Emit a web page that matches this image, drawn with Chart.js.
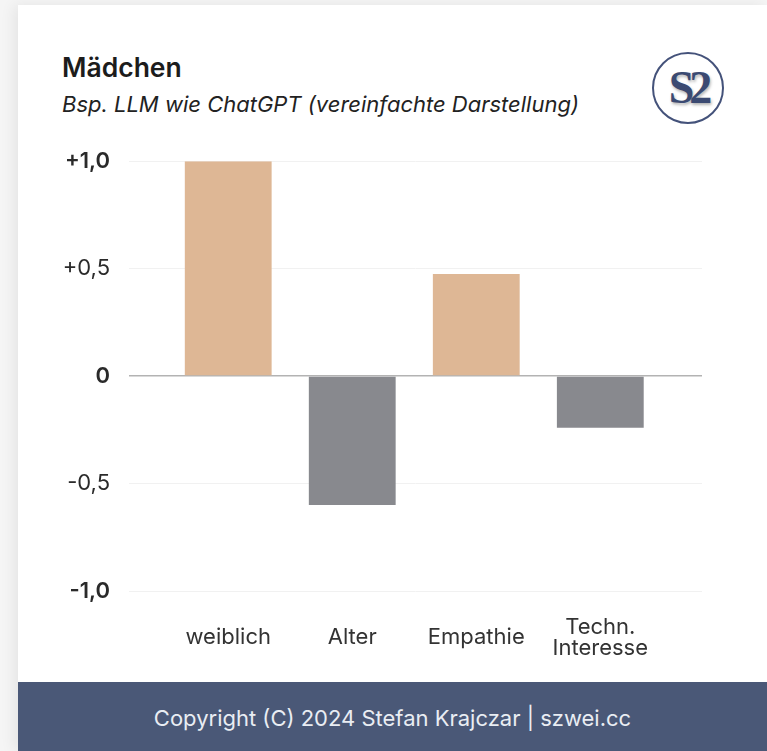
<!DOCTYPE html>
<html>

<head>
    <meta charset="utf-8">
    <script src="https://cdn.jsdelivr.net/npm/chart.js@4.4.1/dist/chart.umd.min.js"></script>
    <style>
        body {
            margin: 0;
            width: 767px;
            height: 751px;
            overflow: hidden;
            background: #f5f5f5;
            font-family: 'Inter', 'Helvetica Neue', Arial, sans-serif;
        }

        #card {
            position: absolute;
            left: 18px;
            top: 5px;
            width: 749px;
            height: 746px;
            background: #fff;
            box-shadow: -4px 0 14px rgba(0, 0, 0, 0.07);
        }

        #title {
            position: absolute;
            left: 44px;
            top: 46px;
            font-size: 26.5px;
            font-weight: 600;
            color: #1c1c1c;
        }

        #subtitle {
            position: absolute;
            left: 44px;
            top: 86px;
            font-size: 22px;
            font-style: italic;
            color: #222;
        }

        #logo {
            position: absolute;
            left: 634px;
            top: 47px;
            width: 68px;
            height: 68px;
            border: 2px solid #44527a;
            border-radius: 50%;
            text-align: center;
            line-height: 68px;
            font-family: 'Liberation Serif', 'DejaVu Serif', serif;
            font-size: 46px;
            font-weight: bold;
            letter-spacing: -5px;
            color: #3b4a72;
            text-shadow: 1px 2px 3px rgba(0, 0, 0, 0.3);
        }

        #box {
            position: absolute;
            left: 0;
            top: 124px;
            width: 749px;
            height: 551px;
        }

        #footer {
            position: absolute;
            left: 0;
            top: 677px;
            width: 749px;
            height: 69px;
            background: #4a5877;
            color: #e9edf3;
            font-size: 22px;
            text-align: center;
            line-height: 72px;
        }
    </style>
    <title>Mädchen</title>
</head>

<body>
    <div id="card">
        <div id="title">Mädchen</div>
        <div id="subtitle">Bsp. LLM wie ChatGPT (vereinfachte Darstellung)</div>
        <div id="logo">S2</div>
        <div id="box"><canvas id="myChart"></canvas></div>
        <div id="footer">Copyright (C) 2024 Stefan Krajczar | szwei.cc</div>
    </div>

    <script>
        var categories = ['weiblich', 'Alter', 'Empathie', ['Techn.', 'Interesse']];
        var values = [1.0, -0.6, 0.475, -0.24];
        var yTicks = [1, 0.5, 0, -0.5, -1];
        var yTickLabels = ['+1,0', '+0,5', '0', '-0,5', '-1,0'];

        var points = values.map(function (v, i) { return { x: i, y: v }; });
        var colors = values.map(function (v) { return v >= 0 ? '#deb795' : '#88898e'; });

        var ctx = document.getElementById('myChart').getContext('2d');
        var myChart = new Chart(ctx, {
            type: 'bar',
            data: {
                datasets: [{
                    data: points,
                    backgroundColor: colors,
                    borderWidth: 0,
                    categoryPercentage: 0.8,
                    barPercentage: 0.875
                }]
            },
            options: {
                responsive: true,
                maintainAspectRatio: false,
                animation: false,
                layout: {
                    padding: { top: 5, right: 65, bottom: 0, left: 0 }
                },
                plugins: {
                    legend: { display: false },
                    tooltip: { enabled: false }
                },
                scales: {
                    x: {
                        type: 'linear',
                        offset: false,
                        min: -0.8,
                        max: 3.82,
                        grid: { display: false, drawTicks: false, offset: false },
                        border: { display: false },
                        afterBuildTicks: function (scale) {
                            scale.ticks = categories.map(function (c, i) { return { value: i }; });
                        },
                        afterFit: function (scale) {
                            scale.height = 89;
                        },
                        ticks: {
                            padding: 36,
                            crossAlign: 'center',
                            color: '#333',
                            font: { family: 'Inter', size: 22, lineHeight: 0.96 },
                            callback: function (v) { return categories[v]; }
                        }
                    },
                    y: {
                        min: -1,
                        max: 1,
                        border: { display: false },
                        grid: {
                            drawTicks: false,
                            color: function (c) { return c.tick && c.tick.value === 0 ? '#b3b3b3' : '#f1f1f1'; },
                            lineWidth: function (c) { return c.tick && c.tick.value === 0 ? 1.5 : 1; }
                        },
                        afterBuildTicks: function (scale) {
                            scale.ticks = yTicks.map(function (v) { return { value: v }; });
                        },
                        afterFit: function (scale) {
                            scale.width = 111;
                        },
                        ticks: {
                            padding: 19,
                            color: '#2a2a2a',
                            font: function (c) {
                                var major = c.tick && Number.isInteger(c.tick.value);
                                return { family: 'Inter', size: 22, weight: major ? '600' : '400' };
                            },
                            callback: function (v) { return yTickLabels[yTicks.indexOf(v)]; }
                        }
                    }
                }
            }
        });
    </script>
</body>

</html>
